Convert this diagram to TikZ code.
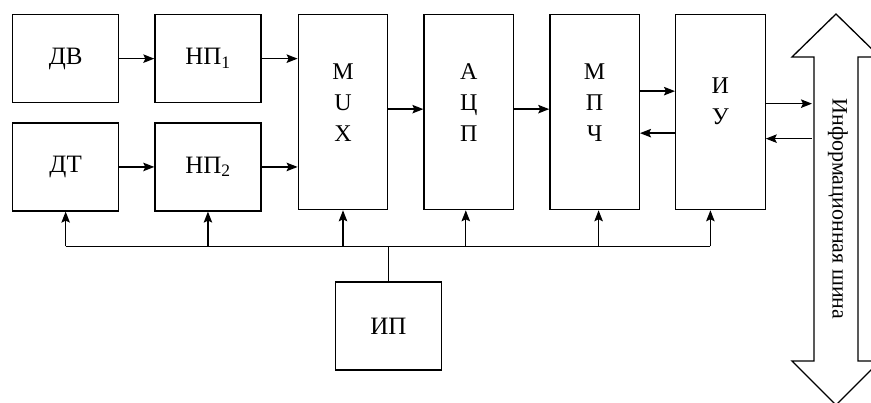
\documentclass[tikz,border=0pt]{standalone}
\usepackage{fontspec}
\setmainfont{Liberation Serif}
\usetikzlibrary{arrows.meta,positioning}

\begin{document}
\begin{tikzpicture}[
  x=1pt, y=-1pt,
  node distance=19pt and 35pt,
  box/.style={draw, line width=1.3pt, minimum width=106pt, minimum height=88pt, inner sep=0pt, font=\fontsize{25}{31}\selectfont},
  tall/.style={draw, line width=1.3pt, minimum width=89.5pt, minimum height=195pt, inner sep=0pt},
  lbl/.style={align=center, inner sep=0pt, font=\fontsize{24}{31}\selectfont},
  arr/.style={line width=1.3pt, -{Stealth[length=11pt, width=8.5pt, inset=2pt]}},
  wire/.style={line width=1.3pt}
]
\useasboundingbox (0,0) rectangle (871,403);
\node[box, anchor=north west] (dv) at (12,14) {ДВ};
\node[box, right=of dv] (np1) {НП\textsubscript{1}};
\node[box, below=of dv] (dt) {ДТ};
\node[box, right=of dt] (np2) {НП\textsubscript{2}};
\node[tall, right=36pt of np1.north east, anchor=north west] (mux) {};
\node[tall, right=of mux] (adc) {};
\node[tall, right=of adc] (mpch) {};
\node[tall, right=of mpch] (iu) {};
\node[lbl] (muxt) at ([yshift=10pt]mux.center) {M\\U\\X};
\node[lbl] (adct) at ([yshift=10pt]adc.center) {А\\Ц\\П};
\node[lbl] (mpcht) at ([yshift=10pt]mpch.center) {М\\П\\Ч};
\node[lbl] (iut) at ([yshift=11pt]iu.center) {И\\У};
% power rail
\coordinate[below=36pt of mux.south east] (tap);
\node[box, below=35pt of tap] (ip) {ИП};
\coordinate (t4) at ([xshift=-3pt]adc.south);
\coordinate (t5) at ([xshift=4pt]mpch.south);
\coordinate (t6) at ([xshift=-10pt]iu.south);
% bus
\coordinate (bustop) at (836,14);
\coordinate (busbot) at (836,405);
\draw[wire] (814,57) -- (792,57) -- (bustop) -- (880,57) -- (858,57) -- (858,361)
  -- (880,361) -- (busbot) -- (792,361) -- (814,361) -- cycle;
\node[rotate=-90, inner sep=0pt, font=\fontsize{22}{26}\selectfont] (bus) at (838,209) {Информационная шина};
\coordinate (busw) at (812,209);
% signal path
\draw[arr] (dv) -- (np1);
\draw[arr] (dt) -- (np2);
\draw[arr] (np1.east) -- (np1.east -| mux.west);
\draw[arr] (np2.east) -- (np2.east -| mux.west);
\draw[arr] ([yshift=3pt]mux.east) -- ([yshift=3pt]adc.west);
\draw[arr] ([yshift=3pt]adc.east) -- ([yshift=3pt]mpch.west);
\draw[arr] ([yshift=21pt]mpch.east) -- ([yshift=21pt]iu.west);
\draw[arr] ([yshift=-21pt]iu.west) -- ([yshift=-21pt]mpch.east);
\draw[arr] ([yshift=8.5pt]iu.east) -- ([yshift=8.5pt]iu.east -| busw);
\draw[arr] ([yshift=-26.5pt]iu.east -| busw) -- ([yshift=-26.5pt]iu.east);
% supply
\draw[wire] (ip.north) -- (tap);
\draw[wire] (tap -| dt) -- (tap -| t6);
\draw[arr] (tap -| dt) -- (dt.south);
\draw[arr] (tap -| np2) -- (np2.south);
\draw[arr] (tap -| mux) -- (mux.south);
\draw[arr] (tap -| t4) -- (t4);
\draw[arr] (tap -| t5) -- (t5);
\draw[arr] (tap -| t6) -- (t6);
\end{tikzpicture}
\end{document}
